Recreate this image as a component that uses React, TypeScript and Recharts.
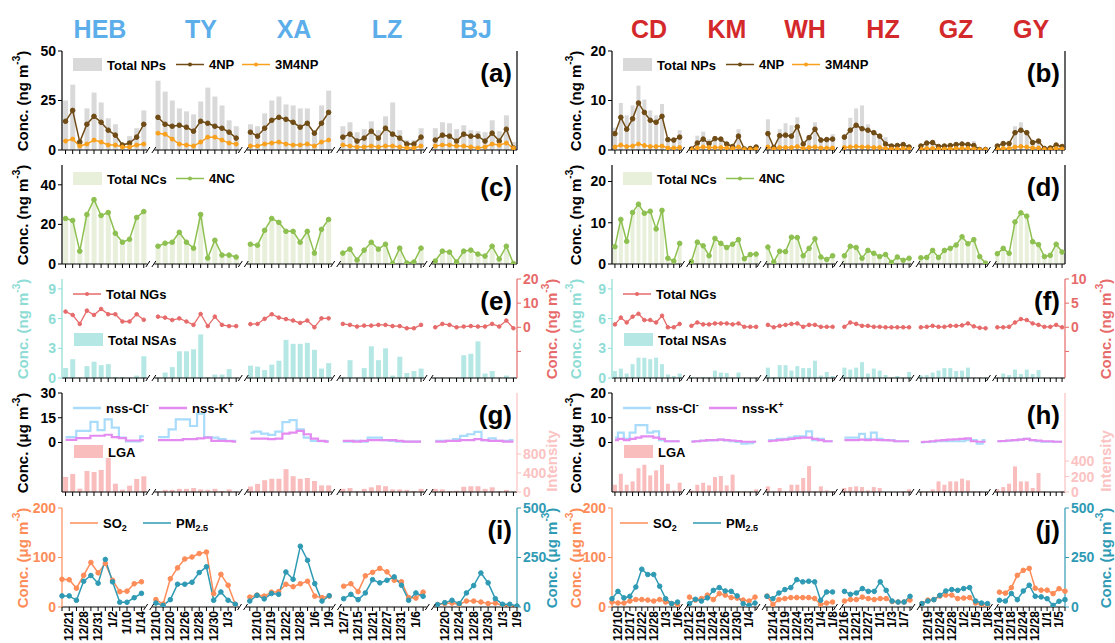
import React from 'react';
import { ComposedChart, Bar, Line, XAxis, YAxis } from 'recharts';

const FONT = "'Liberation Sans', Arial, Helvetica, sans-serif";

// ---------- categories ----------
const LEFT_CITIES = ['HEB', 'TY', 'XA', 'LZ', 'BJ'];
const RIGHT_CITIES = ['CD', 'KM', 'WH', 'HZ', 'GZ', 'GY'];

const LEFT_DATES = [
  ['12/21', '12/28', '12/31', '1/2', '1/10', '1/14'],
  ['12/10', '12/20', '12/26', '12/28', '12/30', '1/3'],
  ['12/10', '12/19', '12/22', '12/28', '1/6', '1/9'],
  ['12/7', '12/15', '12/21', '12/27', '12/31', '1/6'],
  ['12/20', '12/24', '12/28', '12/30', '1/3', '1/9'],
];
const RIGHT_DATES = [
  ['12/10', '12/17', '12/22', '12/28', '1/3', '1/6'],
  ['12/12', '12/19', '12/24', '12/26', '12/30', '1/4'],
  ['12/14', '12/19', '12/24', '12/31', '1/4', '1/8'],
  ['12/16', '12/21', '12/27', '1/1', '1/3', '1/7'],
  ['12/19', '12/24', '12/28', '1/2', '1/5', '1/8'],
  ['12/14', '12/18', '12/24', '12/28', '1/1', '1/5'],
];

// ---------- (a) / (b) nitrophenols ----------
const NP_TOTAL_L = [
  [25, 33, 5, 21, 29, 24, 16, 13, 3, 7, 11, 20],
  [35, 29.5, 25, 21, 19.5, 18, 24.5, 31.5, 27, 22.5, 15, 12],
  [13, 12, 18.5, 25, 27, 23, 22.5, 21, 21, 9, 22.5, 30],
  [12, 14, 9, 10.5, 14.5, 10, 17, 24, 10, 5, 5, 11],
  [11, 14, 13.5, 10.5, 12.5, 10, 9.5, 9, 15, 9.5, 17.5, 4],
];
const NP4_L = [
  [14.5, 20, 4, 13, 17, 14, 10, 7.5, 2.5, 3.5, 6.5, 13],
  [16.5, 13, 12, 12.5, 11.5, 9.5, 14.5, 13.5, 12, 11, 9, 6],
  [9, 7, 11, 15, 16.5, 15.5, 14, 11.5, 13.5, 8.5, 13.5, 19],
  [6.5, 8, 4.5, 6, 9.5, 6, 11, 8, 6, 3, 3, 6.5],
  [5, 7.5, 7, 4.5, 8, 7, 7, 4.5, 8.5, 4.5, 10.5, 1],
];
const NP3_L = [
  [4.5, 5.5, 2, 3, 5, 4, 2.5, 2.5, 1.5, 1.5, 2.5, 3],
  [8.5, 8, 5.5, 3, 2.5, 2, 4, 6.5, 6.5, 5, 3.5, 3],
  [2, 2, 3, 3.5, 4, 3, 2.5, 2.5, 3, 2, 4, 5],
  [2.5, 2, 1.5, 1.5, 2, 1.5, 2, 2, 1.5, 1, 1, 2],
  [2, 2.5, 2.5, 2, 2, 1.5, 1, 1.5, 3, 2.5, 3.5, 1],
];
const NP_TOTAL_R = [
  [4.5, 9.5, 7, 9, 13, 10.2, 8, 7, 9.3, 2.5, 2.5, 4],
  [0.4, 2.9, 3.7, 2.2, 2.5, 2.3, 1.3, 1, 4.2, 0.4, 0.5, 0.8],
  [6.2, 1, 4.2, 5.4, 5, 6.6, 1.5, 3, 5.6, 2.3, 2.5, 3.2],
  [3.2, 6.5, 8.4, 9, 5.2, 4, 2.8, 2.6, 1.2, 1, 1.3, 0.8],
  [1, 1.6, 2, 1, 1, 1.1, 1.5, 1.3, 1.4, 1.8, 0.3, 0.3],
  [0.8, 1.5, 1.5, 4.8, 5.6, 4, 2, 2.2, 0.5, 0.5, 1.2, 0.9],
];
const NP4_R = [
  [3.3, 6.6, 4.2, 6.3, 9.5, 7.6, 6, 5.6, 6.8, 2.1, 2, 2.6],
  [0.2, 1.4, 2.2, 1.3, 2.3, 2.2, 1.2, 0.7, 2.8, 0.2, 0.3, 0.6],
  [3.3, 0.5, 2.9, 3, 2.8, 4.7, 1.2, 2.5, 4.2, 2, 2.1, 2.2],
  [2.6, 4, 5, 4.3, 4, 3.5, 2.8, 1.2, 0.8, 0.9, 1.1, 0.6],
  [0.8, 1.4, 1.5, 0.7, 0.8, 0.9, 1.1, 1.2, 1.1, 0.9, 0.1, 0.1],
  [0.8, 1.3, 1.3, 3.5, 4, 3.5, 1.5, 1.8, 0.3, 0.4, 1, 0.7],
];
const NP3_R = [
  [0.6, 1, 0.7, 0.8, 1.2, 0.9, 0.7, 0.7, 0.8, 0.4, 0.4, 0.5],
  [0.1, 0.4, 0.6, 0.5, 0.5, 0.5, 0.4, 0.3, 0.6, 0.1, 0.1, 0.2],
  [0.6, 0.2, 0.5, 0.5, 0.5, 0.7, 0.3, 0.5, 0.6, 0.4, 0.4, 0.4],
  [0.5, 0.6, 0.7, 0.6, 0.6, 0.5, 0.5, 0.3, 0.2, 0.2, 0.3, 0.2],
  [0.2, 0.3, 0.3, 0.2, 0.2, 0.2, 0.3, 0.3, 0.3, 0.2, 0.05, 0.05],
  [0.2, 0.3, 0.3, 0.6, 0.7, 0.6, 0.4, 0.4, 0.1, 0.1, 0.3, 0.2],
];

// ---------- (c) / (d) nitrocatechols ----------
const NC_TOTAL_L = [
  [23.5, 22.5, 7, 25.5, 33, 25, 26.5, 16, 11.5, 13, 24, 27],
  [9.5, 11, 11.5, 16.5, 11.5, 8.5, 25.5, 3.5, 12.5, 5, 5, 4],
  [10.5, 10, 17.5, 23.5, 21.5, 17, 17, 11.5, 17, 6, 18, 23],
  [6, 8, 2.5, 7.5, 11.5, 8, 10.5, 0.5, 8.5, 1, 1.5, 8.5],
  [2, 7, 6.5, 1.5, 7, 7.5, 5.5, 4.5, 9.5, 3, 9.5, 0.5],
];
const NC4_L = [
  [23, 22, 6.5, 25, 32.5, 24.5, 26, 15.5, 11, 12.5, 23.5, 26.5],
  [9, 10.5, 11, 16, 11, 8, 25, 3, 12, 4.5, 4.5, 3.5],
  [10, 9.5, 17, 23, 21, 16.5, 16.5, 11, 16.5, 5.5, 17.5, 22.5],
  [5.5, 7.5, 2, 7, 11, 7.5, 10, 0.2, 8, 0.5, 1, 8],
  [1.5, 6.5, 6, 1, 6.5, 7, 5, 4, 9, 2.5, 9, 0.2],
];
const NC_TOTAL_R = [
  [4.5, 11, 5.8, 12.8, 14.8, 12.6, 13, 8.8, 13.2, 1.6, 0.9, 5.2],
  [0.8, 5.5, 4.6, 2.2, 6.4, 5.2, 4.2, 5, 6.1, 1.5, 2.5, 2.6],
  [4.3, 0.7, 3.3, 3.2, 6.7, 6.6, 2.2, 4, 6.3, 1.9, 1.3, 2.2],
  [2.2, 4.5, 4.2, 1.6, 3.5, 2.8, 2, 2.5, 0.6, 1.9, 1.1, 1.6],
  [1.7, 1.8, 3.5, 1.8, 3.5, 4, 4.8, 6.8, 5.1, 6.1, 2, 0.4],
  [2.7, 4, 2.8, 10.4, 12.6, 11.8, 5.6, 4.9, 2, 2.3, 5, 3.1],
];
const NC4_R = [
  [4.2, 10.8, 5.5, 12.5, 14.5, 12.3, 12.8, 8.5, 13, 1.4, 0.7, 5],
  [0.6, 5.3, 4.4, 2, 6.2, 5, 4, 4.8, 5.9, 1.3, 2.3, 2.4],
  [4.1, 0.5, 3.1, 3, 6.5, 6.4, 2, 3.8, 6.1, 1.7, 1.1, 2],
  [2, 4.3, 4, 1.4, 3.3, 2.6, 1.8, 2.3, 0.4, 1.7, 0.9, 1.4],
  [1.5, 1.6, 3.3, 1.6, 3.3, 3.8, 4.6, 6.6, 4.9, 5.9, 1.8, 0.2],
  [2.5, 3.8, 2.6, 10.2, 12.4, 11.6, 5.4, 4.7, 1.8, 2.1, 4.8, 2.9],
];

// ---------- (e) / (f) NGs and NSAs ----------
const NG_L = [
  [6.5, 5.1, 1.4, 6.9, 5.1, 7.6, 5.4, 5.4, 2.4, 2.4, 5.4, 3.1],
  [4.4, 4, 3, 3.7, 2.4, 1, 5.5, 0.5, 4.4, 1, 0.5, 0.5],
  [1.3, 1.4, 3.5, 5.4, 4, 3.4, 2.8, 1.8, 2.8, 0, 3.7, 3.7],
  [1.4, 1, 0.3, 0.7, 0.7, 1, 1, 0.5, 0.5, -0.4, -0.4, 1],
  [0, 1.4, 1, 0, 0.3, 0.5, 0.3, 0.3, 1.4, 0.3, 2.8, -0.4],
];
const NSA_L = [
  [1.0, 1.9, 0.05, 1.2, 1.65, 1.3, 1.4, 0.1, 0.1, 0.05, 0.25, 2.2],
  [0.05, 0.55, 1.1, 2.7, 2.7, 2.9, 4.4, 0.1, 0.35, 0.35, 0.9, 0.05],
  [1.25, 1.15, 0.8, 1.35, 1.75, 3.85, 3.45, 3.45, 3.55, 2.85, 0.95, 1.5],
  [0.1, 1.8, 0.05, 1.0, 3.2, 1.8, 3.0, 0.25, 2.15, 0.5, 0.7, 0.95],
  [0.05, 0.05, 0.05, 0.05, 2.3, 2.45, 3.7, 0.45, 0.7, 0.05, 0.25, 0.05],
];
const NG_R = [
  [0.6, 2, 1, 2.2, 2.8, 1.5, 1.5, 1, 2.4, 0, 0, 0.7],
  [0.3, 1, 0.6, 0.6, 0.8, 0.8, 0.8, 0.6, 0.8, 0.1, 0.1, 0.1],
  [0.5, 0, 0.3, 0.5, 0.7, 0.8, 0.1, 0.5, 0.5, 0.1, 0.1, 0.1],
  [0.1, 1, 0.7, 0.3, 0.3, 0.1, 0.1, 0, 0, 0, 0, 0],
  [0, 0.1, 0.3, 0.1, 0.1, 0.3, 0.3, 0.4, 0.8, 0.2, -0.1, -0.2],
  [0, 0, 0.1, 1, 1.7, 1.5, 0.8, 0.5, 0.1, 0.1, 0.5, 0],
];
const NSA_R = [
  [0.7, 0.95, 0.45, 1.4, 2.05, 2.05, 1.9, 2.05, 1.4, 0.35, 0.2, 0.45],
  [0.1, 0.05, 0.1, 0.1, 0.75, 0.55, 0.5, 0.05, 0.55, 0.05, 0.05, 0.05],
  [1.05, 0.1, 1.3, 1.3, 0.75, 1.2, 1.0, 1.0, 1.75, 0.25, 0.6, 0.2],
  [1.05, 0.85, 1.05, 1.6, 0.45, 0.95, 0.75, 0.3, 0.05, 0.2, 0.05, 0.6],
  [0.25, 0.3, 0.55, 0.75, 1.0, 1.0, 0.7, 0.75, 1.05, 0.05, 0.05, 0.05],
  [0.05, 0.45, 0.3, 0.85, 0.4, 0.85, 0.4, 0.8, 0.05, 0.05, 0.05, 0.05],
];

// ---------- (g) / (h) ions and LGA ----------
const CL_L = [
  [3.3, 3.3, 7, 7, 12.5, 7.5, 14, 9, 3, 0.6, 0.6, 3.7],
  [3.3, 3.3, 8, 14, 14, 10, 17.5, 3.3, 3, 2, 1, 1],
  [6, 6.6, 5.4, 4.6, 6.6, 12.4, 13.6, 8, 3, 1, 0.8, 0.8],
  [0.5, 0.5, 1, 0.5, 3, 3, 1.5, 1, 0.5, 0.5, 0.5, 0.5],
  [1, 1, 1, 2, 4, 5, 6.5, 1.5, 2.5, 1, 1, 1.5],
];
const K_L = [
  [1.6, 1.6, 2.7, 2.7, 4.1, 4.1, 4.7, 3.3, 2.7, 1.2, 1.2, 1.4],
  [1.5, 1.5, 1.5, 1.5, 2, 2, 2.5, 3, 1, 1, 0.8, 0.5],
  [2.4, 2.4, 2.4, 2, 2.4, 5.4, 6, 7, 5, 2.4, 1, 0.5],
  [1, 1, 0.5, 1, 1.5, 1.5, 1.5, 1.5, 1, 0.5, 0.5, 0.5],
  [0.5, 0.5, 1, 1, 1.5, 1.5, 2, 1.5, 1, 1, 0.5, 0.5],
];
const LGA_L = [
  [316, 379, 70, 442, 421, 463, 716, 175, 48, 133, 274, 330],
  [17, 45, 45, 66, 66, 83, 55, 45, 66, 22, 55, 11],
  [115, 170, 248, 278, 278, 480, 332, 278, 294, 231, 139, 139],
  [66, 83, 17, 66, 99, 143, 121, 55, 55, 44, 22, 66],
  [66, 55, 22, 28, 110, 121, 121, 66, 99, 17, 44, 6],
];
const CL_R = [
  [2, 4, 1.5, 4, 7, 7, 4, 4.5, 1, 0.5, 0.5, 0.5],
  [0.5, 0.5, 0.8, 0.8, 1, 1.2, 0.8, 0.5, 0.2, -0.5, -0.3, 0.3],
  [1, 1, 1.5, 1.5, 2, 2.5, 2.5, 4.5, 1, 1.5, 0.5, 0.5],
  [2, 2, 2, 3.5, 1.5, 4, 1.5, 1, 1, 0.5, 0.5, 0.5],
  [0, 0.2, 0.3, 0.5, 0.5, 0.5, 0.5, 0.5, 1, 1, -0.5, 1],
  [0.5, 0.5, 0.7, 1, 1.2, 1.5, 1, 0.5, 0.3, 0.3, 0.3, 0.3],
];
const K_R = [
  [1, 1.5, 1, 1.5, 2, 2.5, 2.5, 2, 1.5, 0.5, 0.5, 0.5],
  [0.3, 0.5, 0.7, 1, 1, 1.2, 1, 0.8, 0.6, 0.3, 0.3, 0.3],
  [0.5, 0.7, 1, 1.2, 1.5, 1.8, 2, 2, 1.5, 1, 0.5, 0.5],
  [1, 1, 1, 1.2, 1, 1.2, 1, 1, 0.8, 0.5, 0.5, 0.5],
  [0.2, 0.3, 0.5, 0.8, 1, 1.2, 1.3, 1.5, 1.7, 0.5, 0.3, 0.3],
  [0.5, 0.6, 0.8, 1, 1.2, 1.5, 1, 0.8, 0.5, 0.5, 0.3, 0.3],
];
const LGA_R = [
  [94, 236, 94, 137, 308, 352, 215, 280, 352, 107, 21, 120],
  [21, 94, 120, 86, 193, 206, 86, 224, 9, 9, 9, 34],
  [73, 9, 52, 9, 94, 94, 180, 335, 9, 73, 21, 9],
  [52, 64, 73, 64, 21, 64, 52, 0, 0, 0, 9, 34],
  [9, 9, 34, 137, 94, 137, 137, 172, 150, 9, 9, 0],
  [34, 64, 107, 331, 137, 137, 52, 245, 9, 0, 0, 9],
];

// ---------- (i) / (j) SO2 and PM2.5 ----------
const SO2_L = [
  [56, 55, 38, 64, 90, 69, 88, 54, 31, 32, 47, 51],
  [15, 6, 57, 79, 97, 101, 108, 111, 27, 66, 44, 5],
  [20, 24, 22, 30, 31, 46, 41, 47, 52, 22, 19, 22],
  [42, 47, 31, 63, 70, 78, 71, 54, 51, 19, 18, 30],
  [5, 7, 8, 5, 12, 12, 10, 7, 8, 3, 2, 1],
];
const PM_L = [
  [56, 56, 34, 130, 159, 120, 240, 127, 24, 24, 47, 69],
  [20, 8, 37, 115, 115, 125, 174, 203, 34, 76, 34, 14],
  [30, 59, 41, 68, 64, 177, 140, 307, 236, 118, 30, 57],
  [42, 64, 37, 71, 138, 122, 135, 152, 110, 34, 71, 54],
  [12, 22, 34, 17, 71, 108, 172, 122, 42, 14, 14, 5],
];
const SO2_R = [
  [10, 8, 8, 12, 15, 15, 14, 12, 15, 10, 7, 5],
  [20, 14, 17, 24, 15, 27, 24, 19, 18, 14, 12, 20],
  [22, 5, 15, 17, 19, 19, 19, 19, 17, 5, 8, 10],
  [12, 15, 15, 20, 17, 15, 17, 17, 11, 10, 10, 14],
  [7, 14, 15, 22, 24, 24, 17, 18, 19, 8, 5, 5],
  [30, 28, 39, 64, 74, 78, 38, 34, 34, 27, 37, 32],
];
const PM_R = [
  [42, 79, 46, 54, 101, 191, 164, 164, 105, 42, 17, 25],
  [17, 39, 30, 46, 84, 98, 81, 79, 56, 17, 8, 20],
  [54, 42, 71, 88, 98, 138, 127, 130, 127, 34, 76, 76],
  [79, 64, 71, 93, 79, 79, 127, 84, 30, 25, 25, 54],
  [17, 30, 37, 59, 81, 88, 84, 93, 98, 30, 20, 17],
  [34, 30, 68, 37, 81, 110, 54, 51, 42, 8, 29, 37],
];

// ---------- colours ----------
const C_NP_BAR = '#d9d9d9';
const C_4NP = '#6f4b16';
const C_3M4NP = '#f9a11d';
const C_NC_BAR = '#e8f0db';
const C_4NC = '#8dc050';
const C_NG = '#e76a6a';
const C_NSA = '#b5e8e4';
const C_NSA_AX = '#8edcd5';
const C_CL = '#a9dbfb';
const C_K = '#e38bf1';
const C_LGA = '#f9bdbd';
const C_INT = '#fbc2c2';
const C_SO2 = '#fd8c58';
const C_PM = '#2f9ab4';
const C_CITY_L = '#5caeea';
const C_CITY_R = '#d4292b';

// ---------- layout ----------
const PLOT_TOPS = [51, 165, 279, 393, 508];
const PLOT_H = 99;
const GEOM = {
  L: { chartLeft: 0, width: 565, lw: 62, rw: 48 },
  R: { chartLeft: 565, width: 550, lw: 47, rw: 50 },
};

type Row = { [k: string]: any };

function buildRows(cities: string[], dates: string[][], series: { [k: string]: number[][] }): Row[] {
  const rows: Row[] = [];
  cities.forEach((c, ci) => {
    let d = 0;
    for (let i = 0; i < 12; i++) {
      const slot = rows.length;
      const row: Row = { key: c + '-' + i, gap: false, label: '' };
      Object.keys(series).forEach((name) => {
        row[name] = series[name][ci][i];
      });
      if (slot % 2 === 1 && d < dates[ci].length) row.label = dates[ci][d++];
      rows.push(row);
    }
    if (ci < cities.length - 1) {
      const g: Row = { key: 'gap-' + ci, gap: true, label: '' };
      Object.keys(series).forEach((name) => {
        g[name] = null;
      });
      rows.push(g);
    }
  });
  return rows;
}

const LEFT_ROWS = buildRows(LEFT_CITIES, LEFT_DATES, {
  npTot: NP_TOTAL_L, np4: NP4_L, np3: NP3_L, ncTot: NC_TOTAL_L, nc4: NC4_L,
  ng: NG_L, nsa: NSA_L, cl: CL_L, k: K_L, lga: LGA_L, so2: SO2_L, pm: PM_L,
});
const RIGHT_ROWS = buildRows(RIGHT_CITIES, RIGHT_DATES, {
  npTot: NP_TOTAL_R, np4: NP4_R, np3: NP3_R, ncTot: NC_TOTAL_R, nc4: NC4_R,
  ng: NG_R, nsa: NSA_R, cl: CL_R, k: K_R, lga: LGA_R, so2: SO2_R, pm: PM_R,
});

// ---------- ticks ----------
function BreakMark({ x, y }: { x: number; y: number }) {
  return (
    <g>
      <rect x={x - 3.5} y={y - 2} width={7} height={4} fill="#fff" />
      <line x1={x - 5} y1={y + 3} x2={x - 1} y2={y - 3} stroke="#000" strokeWidth={1} />
      <line x1={x + 1} y1={y + 3} x2={x + 5} y2={y - 3} stroke="#000" strokeWidth={1} />
    </g>
  );
}

function BottomTick(props: any) {
  const { x, y, payload, rowMap, showLabels } = props;
  const row = rowMap.get(payload.value);
  if (!row) return null;
  if (row.gap) return <BreakMark x={x} y={y} />;
  return (
    <g>
      <line x1={x} y1={y} x2={x} y2={y + 4} stroke="#000" strokeWidth={1} />
      {showLabels && row.label ? (
        <text
          transform={`translate(${x},${y + 4}) rotate(-90)`}
          textAnchor="end"
          dominantBaseline="central"
          fontSize={12}
          fontWeight="bold"
          fontFamily={FONT}
          fill="#000"
        >
          {row.label}
        </text>
      ) : null}
    </g>
  );
}

function TopTick(props: any) {
  const { x, y, payload, rowMap } = props;
  const row = rowMap.get(payload.value);
  if (row && row.gap) return <BreakMark x={x} y={y} />;
  return <g />;
}

type AxisCfg = { domain: [number, number]; ticks: number[]; color: string; labels: boolean; hideNeg?: boolean };

function Panel({ rows, side, idx, la, ra, children }: { rows: Row[]; side: 'L' | 'R'; idx: number; la: AxisCfg; ra: AxisCfg; children: any }) {
  const g = GEOM[side];
  const showLabels = idx === 4;
  const xh = showLabels ? 36 : 12;
  const mt = 10;
  const h = PLOT_H + mt + xh;
  const top = PLOT_TOPS[idx] - mt;
  const rowMap = new Map(rows.map((r) => [r.key, r]));
  const tickStyle = (c: string) => ({ fill: c, fontSize: 14, fontWeight: 700, fontFamily: FONT });
  const fmt = (cfg: AxisCfg) => (v: number) => (cfg.hideNeg && v < 0 ? '' : String(v));
  return (
    <div style={{ position: 'absolute', left: g.chartLeft, top, width: g.width, height: h }}>
      <ComposedChart width={g.width} height={h} data={rows} margin={{ top: mt, right: 0, bottom: 0, left: 0 }} barCategoryGap="16%">
        <XAxis
          xAxisId="b"
          dataKey="key"
          interval={0}
          height={xh}
          tickLine={false}
          tickSize={0}
          tickMargin={0}
          axisLine={{ stroke: '#000', strokeWidth: 1.2 }}
          tick={<BottomTick rowMap={rowMap} showLabels={showLabels} />}
        />
        <XAxis
          xAxisId="t"
          dataKey="key"
          orientation="top"
          interval={0}
          height={0}
          tickLine={false}
          tickSize={0}
          tickMargin={0}
          axisLine={{ stroke: '#000', strokeWidth: 1.2 }}
          tick={<TopTick rowMap={rowMap} />}
        />
        <YAxis
          yAxisId="l"
          type="number"
          domain={la.domain}
          ticks={la.ticks}
          interval={0}
          width={g.lw}
          allowDataOverflow
          axisLine={{ stroke: la.color, strokeWidth: 1.2 }}
          tickLine={{ stroke: la.color }}
          tickSize={4}
          tickMargin={2}
          tick={la.labels ? tickStyle(la.color) : false}
          tickFormatter={fmt(la)}
        />
        <YAxis
          yAxisId="r"
          orientation="right"
          type="number"
          domain={ra.domain}
          ticks={ra.ticks}
          interval={0}
          width={g.rw}
          allowDataOverflow
          axisLine={{ stroke: ra.color, strokeWidth: 1.2 }}
          tickLine={{ stroke: ra.color }}
          tickSize={4}
          tickMargin={2}
          tick={ra.labels ? tickStyle(ra.color) : false}
          tickFormatter={fmt(ra)}
        />
        {children}
      </ComposedChart>
    </div>
  );
}

function Half({ side }: { side: 'L' | 'R' }) {
  const rows = side === 'L' ? LEFT_ROWS : RIGHT_ROWS;
  const L = side === 'L';
  const dot = (c: string, r: number) => ({ r, fill: c, stroke: c, strokeWidth: 1 });
  return (
    <>
      <Panel rows={rows} side={side} idx={0}
        la={{ domain: L ? [0, 50] : [0, 20], ticks: L ? [0, 25, 50] : [0, 10, 20], color: '#000', labels: true }}
        ra={{ domain: L ? [0, 50] : [0, 20], ticks: L ? [12.5, 25, 37.5] : [5, 10, 15], color: '#000', labels: false }}>
        <Bar xAxisId="b" yAxisId="l" dataKey="npTot" fill={C_NP_BAR} isAnimationActive={false} />
        <Line xAxisId="b" yAxisId="l" dataKey="np4" stroke={C_4NP} strokeWidth={1.5} dot={dot(C_4NP, 2.3)} isAnimationActive={false} />
        <Line xAxisId="b" yAxisId="l" dataKey="np3" stroke={C_3M4NP} strokeWidth={1.5} dot={dot(C_3M4NP, 2)} isAnimationActive={false} />
      </Panel>
      <Panel rows={rows} side={side} idx={1}
        la={{ domain: L ? [0, 50] : [0, 24], ticks: L ? [0, 20, 40] : [0, 10, 20], color: '#000', labels: true }}
        ra={{ domain: L ? [0, 50] : [0, 24], ticks: L ? [12.5, 25, 37.5] : [6, 12, 18], color: '#000', labels: false }}>
        <Bar xAxisId="b" yAxisId="l" dataKey="ncTot" fill={C_NC_BAR} isAnimationActive={false} />
        <Line xAxisId="b" yAxisId="l" dataKey="nc4" stroke={C_4NC} strokeWidth={1.5} dot={dot(C_4NC, 2.3)} isAnimationActive={false} />
      </Panel>
      <Panel rows={rows} side={side} idx={2}
        la={{ domain: [0, 10], ticks: [0, 3, 6, 9], color: C_NSA_AX, labels: true }}
        ra={{ domain: L ? [-21, 20] : [-10.5, 10], ticks: L ? [-10, 0, 10, 20] : [-5, 0, 5, 10], color: C_NG, labels: true, hideNeg: true }}>
        <Bar xAxisId="b" yAxisId="l" dataKey="nsa" fill={C_NSA} isAnimationActive={false} />
        <Line xAxisId="b" yAxisId="r" dataKey="ng" stroke={C_NG} strokeWidth={1.3} dot={dot(C_NG, 1.8)} isAnimationActive={false} />
      </Panel>
      <Panel rows={rows} side={side} idx={3}
        la={{ domain: L ? [-30, 30] : [-20, 20], ticks: L ? [0, 15, 30] : [0, 10, 20], color: '#000', labels: true }}
        ra={{ domain: L ? [0, 2080] : [0, 1280], ticks: L ? [0, 400, 800] : [0, 200, 400], color: C_INT, labels: true }}>
        <Bar xAxisId="b" yAxisId="r" dataKey="lga" fill={C_LGA} isAnimationActive={false} />
        <Line xAxisId="b" yAxisId="l" type="step" dataKey="cl" stroke={C_CL} strokeWidth={2.2} dot={false} isAnimationActive={false} />
        <Line xAxisId="b" yAxisId="l" type="step" dataKey="k" stroke={C_K} strokeWidth={2.2} dot={false} isAnimationActive={false} />
      </Panel>
      <Panel rows={rows} side={side} idx={4}
        la={{ domain: [0, 200], ticks: [0, 100, 200], color: C_SO2, labels: true }}
        ra={{ domain: [0, 500], ticks: [0, 250, 500], color: C_PM, labels: true }}>
        <Line xAxisId="b" yAxisId="l" dataKey="so2" stroke={C_SO2} strokeWidth={1.5} dot={dot(C_SO2, 2.3)} isAnimationActive={false} />
        <Line xAxisId="b" yAxisId="r" dataKey="pm" stroke={C_PM} strokeWidth={1.5} dot={dot(C_PM, 2.3)} isAnimationActive={false} />
      </Panel>
    </>
  );
}

// ---------- annotation overlay ----------
function Txt(props: any) {
  return <text fontFamily={FONT} fontWeight="bold" {...props} />;
}

function LegRect({ x, y, color, children }: any) {
  return (
    <g>
      <rect x={x} y={y} width={29} height={13} fill={color} />
      <Txt x={x + 34} y={y + 11.5} fontSize={13} fill="#000">{children}</Txt>
    </g>
  );
}
function LegLine({ x, y, color, dotR, sw, children }: any) {
  return (
    <g>
      <line x1={x} y1={y} x2={x + 28} y2={y} stroke={color} strokeWidth={sw || 1.5} />
      {dotR ? <circle cx={x + 14} cy={y} r={dotR} fill={color} /> : null}
      <Txt x={x + 33} y={y + 4.5} fontSize={13} fill="#000">{children}</Txt>
    </g>
  );
}

function AxisTitle({ x, cy, color, unit }: any) {
  return (
    <Txt transform={`translate(${x},${cy}) rotate(-90)`} textAnchor="middle" dominantBaseline="central" fontSize={15} fill={color}>
      {unit === 'I' ? (
        'Intensity'
      ) : (
        <>
          {'Conc. (' + unit + ' m'}
          <tspan dy={-6} fontSize={10}>-3</tspan>
          <tspan dy={6}>)</tspan>
        </>
      )}
    </Txt>
  );
}

function Overlay() {
  const halves: ('L' | 'R')[] = ['L', 'R'];
  const cityL = [
    { n: 'HEB', x: 100 }, { n: 'TY', x: 201 }, { n: 'XA', x: 294 }, { n: 'LZ', x: 387 }, { n: 'BJ', x: 476 },
  ];
  const cityR = [
    { n: 'CD', x: 649 }, { n: 'KM', x: 727 }, { n: 'WH', x: 805 }, { n: 'HZ', x: 883 }, { n: 'GZ', x: 956 }, { n: 'GY', x: 1031 },
  ];
  return (
    <svg width={1115} height={643} style={{ position: 'absolute', left: 0, top: 0, pointerEvents: 'none' }}>
      {cityL.map((c) => (
        <Txt key={c.n} x={c.x} y={38} fontSize={25} textAnchor="middle" fill={C_CITY_L}>{c.n}</Txt>
      ))}
      {cityR.map((c) => (
        <Txt key={c.n} x={c.x} y={38} fontSize={25} textAnchor="middle" fill={C_CITY_R}>{c.n}</Txt>
      ))}
      {halves.map((s) => {
        const PL = s === 'L' ? 62 : 612;
        const PR = s === 'L' ? 517 : 1065;
        const tl = s === 'L' ? 22 : 575;
        const tr = s === 'L' ? 551 : 1105;
        const letters = s === 'L' ? ['(a)', '(c)', '(e)', '(g)', '(i)'] : ['(b)', '(d)', '(f)', '(h)', '(j)'];
        const T = PLOT_TOPS;
        return (
          <g key={s}>
            {letters.map((l, i) => (
              <Txt key={l} x={PR - 5} y={T[i] + 31} fontSize={26} textAnchor="end" fill="#000">{l}</Txt>
            ))}
            {/* panel 0 */}
            <LegRect x={PL + 11} y={T[0] + 7} color={C_NP_BAR}>Total NPs</LegRect>
            <LegLine x={PL + 114} y={T[0] + 13.5} color={C_4NP} dotR={2}>4NP</LegLine>
            <LegLine x={PL + 180} y={T[0] + 13.5} color={C_3M4NP} dotR={2}>3M4NP</LegLine>
            <AxisTitle x={tl} cy={T[0] + 50} color="#000" unit="ng" />
            {/* panel 1 */}
            <LegRect x={PL + 11} y={T[1] + 7} color={C_NC_BAR}>Total NCs</LegRect>
            <LegLine x={PL + 114} y={T[1] + 13.5} color={C_4NC} dotR={2}>4NC</LegLine>
            <AxisTitle x={tl} cy={T[1] + 50} color="#000" unit="ng" />
            {/* panel 2 */}
            <LegLine x={PL + 11} y={T[2] + 15} color={C_NG} dotR={2}>Total NGs</LegLine>
            <LegRect x={PL + 12} y={T[2] + 54} color={C_NSA}>Total NSAs</LegRect>
            <AxisTitle x={tl} cy={T[2] + 50} color={C_NSA_AX} unit="ng" />
            <AxisTitle x={tr} cy={T[2] + 50} color={C_NG} unit="ng" />
            {/* panel 3 */}
            <LegLine x={PL + 11} y={T[3] + 15} color={C_CL} sw={2.5}>
              nss-Cl<tspan dy={-5} fontSize={9}>-</tspan>
            </LegLine>
            <LegLine x={PL + 97} y={T[3] + 15} color={C_K} sw={2.5}>
              nss-K<tspan dy={-5} fontSize={9}>+</tspan>
            </LegLine>
            <LegRect x={PL + 12} y={T[3] + 52} color={C_LGA}>LGA</LegRect>
            <AxisTitle x={tl} cy={T[3] + 50} color="#000" unit="μg" />
            <AxisTitle x={tr} cy={T[3] + 68} color={C_INT} unit="I" />
            {/* panel 4 */}
            <LegLine x={PL + 8} y={T[4] + 15} color={C_SO2}>
              SO<tspan dy={3} fontSize={9}>2</tspan>
            </LegLine>
            <LegLine x={PL + 81} y={T[4] + 15} color={C_PM}>
              PM<tspan dy={3} fontSize={9}>2.5</tspan>
            </LegLine>
            <AxisTitle x={tl} cy={T[4] + 50} color={C_SO2} unit="μg" />
            <AxisTitle x={tr} cy={T[4] + 50} color={C_PM} unit="μg" />
          </g>
        );
      })}
    </svg>
  );
}

export default function App() {
  return (
    <div style={{ position: 'absolute', left: 0, top: 0, width: 1115, height: 643, overflow: 'hidden', background: '#fff', fontFamily: FONT }}>
      <Half side="L" />
      <Half side="R" />
      <Overlay />
    </div>
  );
}
